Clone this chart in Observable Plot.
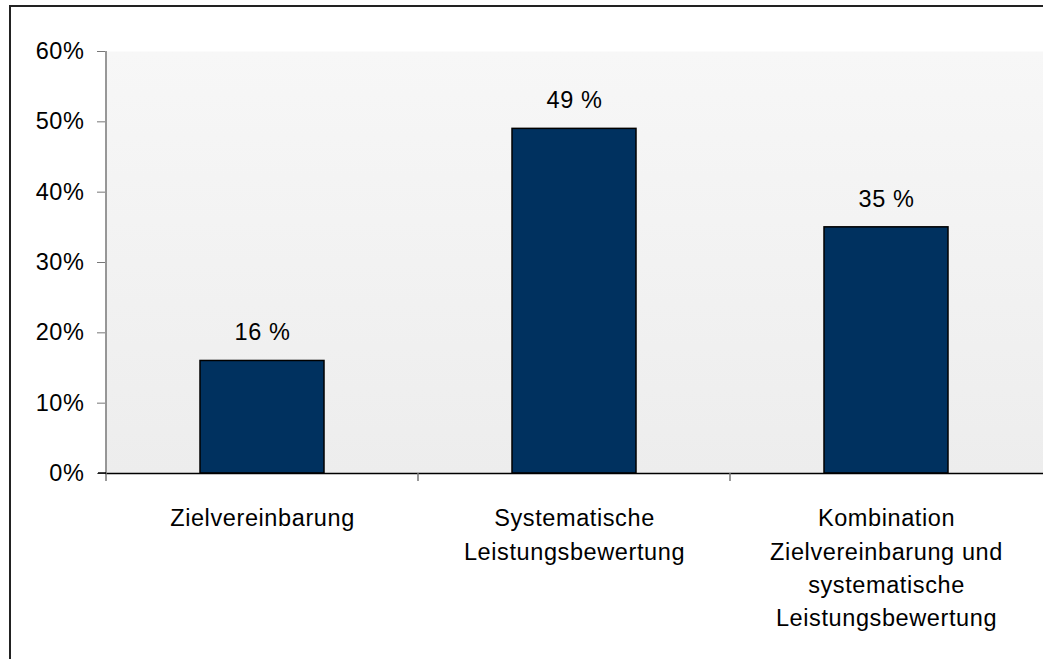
<!DOCTYPE html>
<html>
<head>
<meta charset="utf-8">
<script src="https://cdn.jsdelivr.net/npm/d3@7"></script>
<script src="https://cdn.jsdelivr.net/npm/@observablehq/plot@0.6"></script>
<style>
  html, body { margin: 0; padding: 0; background: #fff; }
  #wrap { position: relative; width: 1043px; height: 659px; overflow: hidden; }
  #border { position: absolute; left: 9px; top: 5px; width: 2000px; height: 2000px;
            border-left: 2px solid #222; border-top: 2px solid #222; pointer-events: none; }
  svg { font-family: "Liberation Sans", Arial, sans-serif; }
  svg text { letter-spacing: 0.6px; }
</style>
</head>
<body>
<div id="wrap"><div id="border"></div></div>
<script>
const categories = ["Zielvereinbarung", "Systematische Leistungsbewertung", "Kombination Zielvereinbarung und systematische Leistungsbewertung"];
const categoryLabels = ["Zielvereinbarung", "Systematische\nLeistungsbewertung", "Kombination\nZielvereinbarung und\nsystematische\nLeistungsbewertung"];
const values = [16, 49, 35];
const yTicks = [0, 10, 20, 30, 40, 50, 60];

const data = categories.map((c, i) => ({category: c, label: categoryLabels[i], value: values[i]}));
const labelOf = new Map(data.map(d => [d.category, d.label]));

const plot = Plot.plot({
  width: 1043,
  height: 659,
  marginLeft: 105,
  marginRight: 0,
  marginTop: 51,
  marginBottom: 186,
  style: {fontFamily: "Liberation Sans, Arial, sans-serif", fontSize: "23.5px", color: "#000", background: "transparent"},
  x: {type: "band", domain: categories, padding: 0, label: null},
  y: {domain: [0, 60], label: null},
  marks: [
    Plot.frame({fill: "url(#bgGrad)", stroke: "none"}),
    Plot.barY(data, {x: "category", y: "value", fill: "#00315f", stroke: "#000", strokeWidth: 1.5, insetLeft: 94, insetRight: 94}),
    Plot.text(data, {x: "category", y: "value", text: d => d.value + " %", dy: -28, fontSize: 23.5, fill: "#000"}),
    Plot.ruleY([0], {stroke: "#000", strokeWidth: 1.5}),
    Plot.axisY({ticks: yTicks, tickFormat: d => d + "%", tickSize: 8, tickPadding: 13, stroke: "#777", fontSize: 23.5, fill: "#000"}),
    Plot.axisX({tickSize: 0, tickPadding: 29, tickFormat: d => labelOf.get(d), lineHeight: 1.42, fontSize: 23.5, fill: "#000"})
  ]
});

// gradient definition for plot background
const svg = d3.select(plot);
const defs = svg.insert("defs", ":first-child");
const grad = defs.append("linearGradient").attr("id", "bgGrad").attr("x1", 0).attr("y1", 0).attr("x2", 0).attr("y2", 1);
grad.append("stop").attr("offset", "0%").attr("stop-color", "#f7f7f7");
grad.append("stop").attr("offset", "100%").attr("stop-color", "#ededed");

// axis lines and category boundary ticks from the plot's own scales
const xs = plot.scale("x");
const ys = plot.scale("y");
const y0 = ys.apply(0), yTop = ys.apply(60);
const bounds = categories.map(c => xs.apply(c)).concat([xs.apply(categories[categories.length - 1]) + xs.bandwidth]);
const g = svg.append("g").attr("stroke", "#777").attr("stroke-width", 1.5);
g.append("line").attr("x1", bounds[0]).attr("x2", bounds[0]).attr("y1", yTop).attr("y2", y0 + 8);
bounds.slice(1, -1).forEach(b => g.append("line").attr("x1", b).attr("x2", b).attr("y1", y0).attr("y2", y0 + 8));
// extend baseline to the left tick
svg.append("line").attr("stroke", "#000").attr("stroke-width", 1.5).attr("x1", bounds[0] - 8).attr("x2", bounds[0]).attr("y1", y0).attr("y2", y0);

document.getElementById("wrap").appendChild(plot);
</script>
</body>
</html>
